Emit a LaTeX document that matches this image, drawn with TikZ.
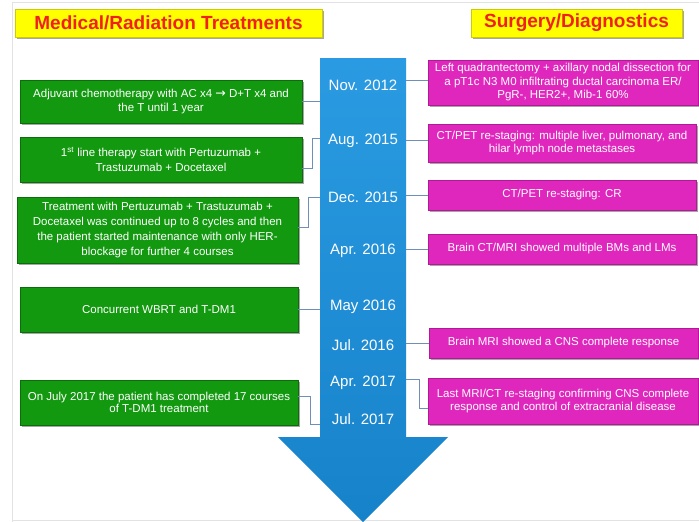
\documentclass[tikz,border=0pt]{standalone}
\usepackage{fontspec}
\setmainfont{Liberation Sans}
\newfontfamily\arrfont{DejaVu Sans}
\usetikzlibrary{shadows,calc}
\definecolor{gfill}{HTML}{12990F}
\definecolor{gdraw}{HTML}{0B6E0B}
\definecolor{pfill}{HTML}{DF27BD}
\definecolor{pdraw}{HTML}{B01A96}
\definecolor{ablueT}{HTML}{2A9BE2}
\definecolor{ablueB}{HTML}{1682CA}
\definecolor{conn}{HTML}{6F8FB8}
\definecolor{ttlred}{HTML}{F0201C}
\definecolor{ttlyel}{HTML}{FFFF00}
\definecolor{frame}{HTML}{E2E2E2}
\begin{document}
\begin{tikzpicture}[x=1pt,y=-1pt,
  shad/.style={drop shadow={shadow xshift=1.5pt,shadow yshift=-1.5pt,opacity=0.35,fill=black}},
  gbox/.style={shad,draw=gdraw,fill=gfill,text=white,inner sep=0pt,align=center,
    font=\fontsize{11.5}{13.5}\selectfont},
  pbox/.style={shad,draw=pdraw,fill=pfill,text=white,inner sep=0pt,align=center,
    font=\fontsize{11.5}{13.5}\selectfont},
  ttl/.style={shad,draw=ttlyel!80!black,fill=ttlyel,text=ttlred,inner sep=0pt,
    minimum height=28pt,font=\bfseries\fontsize{19}{22}\selectfont},
  date/.style={text=white,inner sep=0pt,font=\fontsize{15}{17}\selectfont},
  cn/.style={draw=conn,line width=1pt}]
\useasboundingbox (0,0) rectangle (699,522);
\fill[white] (0,0) rectangle (699,522);
\draw[frame,line width=1pt] (12,522) -- (12,2) -- (699,2);
\draw[frame,line width=1pt] (12,520) -- (699,520);

% titles
\node[ttl,minimum width=307pt] (tl) at (168.5,23) {Medical/Radiation Treatments};
\node[ttl,minimum width=211pt] (tr) at (576.5,23) {Surgery/Diagnostics};

% arrow
\shade[top color=ablueT,bottom color=ablueB]
  (320,58) -- (406,58) -- (406,437) -- (448,437) -- (363,522) -- (278,437) -- (320,437) -- cycle;
\coordinate (sL) at (320,300);
\coordinate (sR) at (406,300);

% dates
\node[date] (d1) at (363,85)  {Nov. 2012};
\node[date] (d2) at (363,141) {Aug. 2015};
\node[date] (d3) at (363,197) {Dec. 2015};
\node[date] (d4) at (363,251) {Apr. 2016};
\node[date] (d5) at (363,307) {May 2016};
\node[date] (d6) at (363,345) {Jul. 2016};
\node[date] (d7) at (363,383) {Apr. 2017};
\node[date] (d8) at (363,419) {Jul. 2017};

% green boxes
\node[gbox,minimum width=282pt,minimum height=43pt] (g1) at (161,101.5)
  {Adjuvant chemotherapy with AC x4 {\arrfont\fontsize{12.5}{12}\selectfont →} D+T x4 and\\the T until 1 year};
\node[gbox,minimum width=282pt,minimum height=45pt,font=\fontsize{11.5}{15}\selectfont] (g2) at (161,159.5)
  {1\textsuperscript{st} line therapy start with Pertuzumab +\\Trastuzumab + Docetaxel};
\node[gbox,minimum width=281pt,minimum height=66pt,font=\fontsize{11.5}{15}\selectfont] (g3) at (157.5,230)
  {Treatment with Pertuzumab + Trastuzumab +\\Docetaxel was continued up to 8 cycles and then\\the patient started maintenance with only HER-\\blockage for further 4 courses};
\node[gbox,minimum width=278pt,minimum height=45pt] (g4) at (159,309.5)
  {Concurrent WBRT and T-DM1};
\node[gbox,minimum width=278pt,minimum height=45pt,font=\fontsize{11.5}{12.5}\selectfont] (g5) at (159,402.5)
  {On July 2017 the patient has completed 17 courses\\of T-DM1 treatment};

% pink boxes
\node[pbox,minimum width=270pt,minimum height=45pt] (p1) at (563,82.5)
  {Left quadrantectomy + axillary nodal dissection for\\a pT1c N3 M0 infiltrating ductal carcinoma ER/\\PgR-, HER2+, Mib-1 60\%};
\node[pbox,minimum width=268pt,minimum height=38pt] (p2) at (562,143)
  {CT/PET re-staging: multiple liver, pulmonary, and\\hilar lymph node metastases};
\node[pbox,minimum width=268pt,minimum height=30pt] (p3) at (562,195)
  {CT/PET re-staging: CR};
\node[pbox,minimum width=268pt,minimum height=30pt] (p4) at (562,249)
  {Brain CT/MRI showed multiple BMs and LMs};
\node[pbox,minimum width=269pt,minimum height=30pt] (p5) at (563.5,343)
  {Brain MRI showed a CNS complete response};
\node[pbox,minimum width=270pt,minimum height=46pt] (p6) at (563,401)
  {Last MRI/CT re-staging confirming CNS complete\\response and control of extracranial disease};

% connectors left
\draw[cn] (g1.east) -- (g1.east -| sL);
\draw[cn] ([yshift=-8.5pt]g2.east) -- ++(10,0) |- ([yshift=3pt]d2.center -| sL);
\draw[cn] ([yshift=3pt]g3.east) -- ++(10,0) |- (d3.center -| sL);
\draw[cn] (g4.east) -- (g4.east -| sL);
\draw[cn] ([yshift=6.5pt]g5.east) -- ++(12,0) |- ([yshift=-5pt]d8.center -| sL);

% connectors right
\draw[cn] ([yshift=2.5pt]p1.west -| sR) -- ([yshift=2.5pt]p1.west);
\draw[cn] ([yshift=3pt]p2.west -| sR) -- ([yshift=3pt]p2.west);
\draw[cn] (p3.west -| sR) -- (p3.west);
\draw[cn] (p4.west -| sR) -- (p4.west);
\draw[cn] (p5.west -| sR) -- (p5.west);
\draw[cn] ([yshift=4pt]d7.center -| sR) -- ++(13,0) |- ([yshift=-7pt]p6.west);
\end{tikzpicture}
\end{document}
